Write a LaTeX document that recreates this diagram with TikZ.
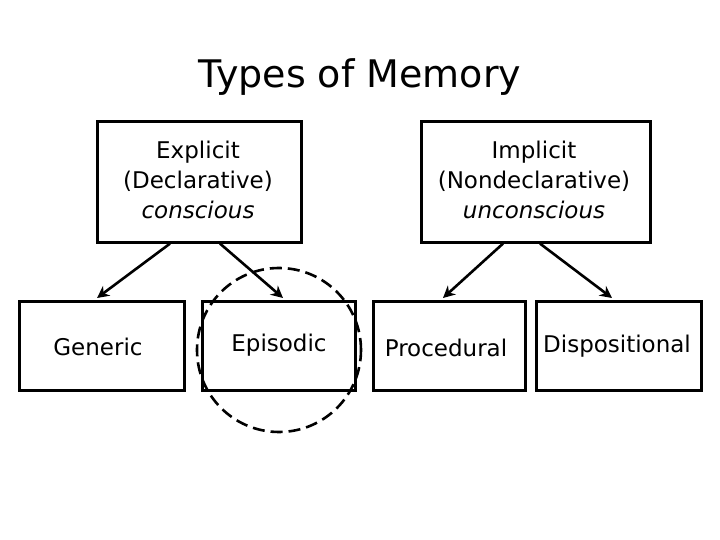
\documentclass[tikz,border=0pt]{standalone}
\usepackage{fontspec}
\setmainfont{DejaVu Sans}
\usetikzlibrary{arrows.meta,calc}
\begin{document}
\begin{tikzpicture}[x=0.5pt,y=-0.5pt,
  box/.style={draw,line width=1.3pt,inner sep=0pt,anchor=north west},
  txt/.style={font=\fontsize{11.5}{15}\selectfont,align=center},
  arr/.style={line width=1.3pt,-{Stealth[length=6pt,width=6pt]}}]
\useasboundingbox (0,0) rectangle (720,540);
\node[font=\fontsize{19}{22}\selectfont] (title) at (360,77) {Types of Memory};
\node[box,minimum width=102pt,minimum height=60.5pt] (ex) at (96,120) {};
\node[box,minimum width=114.5pt,minimum height=60.5pt] (im) at (420,120) {};
\node[txt] (ext) at (198,180) {Explicit\\(Declarative)\\\textit{conscious}};
\node[txt] (imt) at (534,180) {Implicit\\(Nondeclarative)\\\textit{unconscious}};
\node[box,minimum width=82.5pt,minimum height=44.5pt] (ge) at (18,300) {};
\node[box,minimum width=76.5pt,minimum height=44.5pt] (ep) at (201,300) {};
\node[box,minimum width=76pt,minimum height=44.5pt] (pr) at (372,300) {};
\node[box,minimum width=82.5pt,minimum height=44.5pt] (di) at (535,300) {};
\node[txt] (get) at (98,347) {Generic};
\node[txt] (ept) at (279,345) {Episodic};
\node[txt] (prt) at (446,348) {Procedural};
\node[txt] (dit) at (617,346) {Dispositional};
\node[draw,circle,dashed,line width=1.3pt,dash pattern=on 6pt off 3pt,minimum size=82pt] (circ) at (279,350) {};
\coordinate (a1) at ($(ex.south west)+(74,0)$);
\coordinate (a2) at ($(ex.south west)+(124,0)$);
\coordinate (b1) at ($(im.south west)+(83,0)$);
\coordinate (b2) at ($(im.south west)+(120,0)$);
\draw[arr] (a1) -- ($(ge.north west)+(79,-2)$);
\draw[arr] (a2) -- ($(ep.north west)+(82,-2)$);
\draw[arr] (b1) -- ($(pr.north west)+(71,-2)$);
\draw[arr] (b2) -- ($(di.north west)+(77,-2)$);
\end{tikzpicture}
\end{document}
